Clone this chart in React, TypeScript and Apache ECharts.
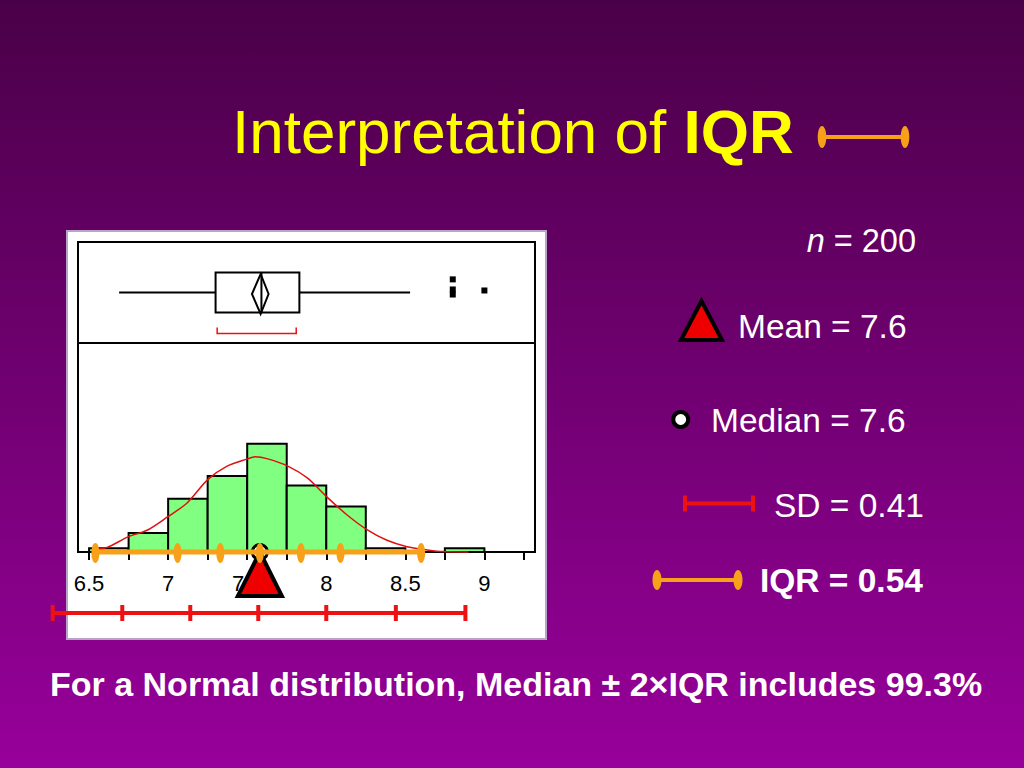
import React, { useEffect, useRef } from 'react';
import * as echarts from 'echarts';

// ---------- data ----------
const binEdges = [6.5, 6.75, 7, 7.25, 7.5, 7.75, 8, 8.25, 8.5, 8.75, 9, 9.25];
const binCounts = [2, 10, 28, 40, 57, 35, 24, 2, 0, 2, 0];

const curveX = [6.52, 6.61, 6.75, 6.87, 7.0, 7.12, 7.25, 7.37, 7.5, 7.55, 7.63, 7.76, 7.88, 8.0, 8.13, 8.26, 8.38, 8.51, 8.64, 8.74, 8.9];
const curveY = [1.4, 2.3, 8.1, 11.6, 18.7, 25.8, 38.1, 45.1, 49.0, 50.1, 49.0, 45.1, 39.0, 29.3, 19.6, 11.6, 6.3, 2.8, 1.1, 0.2, 0];

// low whisker, Q1, median, Q3, high whisker
const boxStats = [6.69, 7.3, 7.59, 7.83, 8.53];
// mean diamond: lower, mean, upper
const meanDiamond = [7.53, 7.585, 7.635];
// shortest half bracket
const shortestHalf = [7.31, 7.81];
const outlierX = [8.8, 8.8, 8.8, 9.0];
const outlierY = [0.63, 0.53, 0.48, 0.52];

const tickValues = [6.5, 6.75, 7, 7.25, 7.5, 7.75, 8, 8.25, 8.5, 8.75, 9, 9.25];
const tickLabels = [6.5, 7, 7.5, 8, 8.5, 9];

const iqrMarks = [6.54, 7.06, 7.33, 7.58, 7.84, 8.09, 8.6];
const sdMarks = [6.27, 6.71, 7.14, 7.57, 8.0, 8.44, 8.88];
const meanValue = 7.58;
const medianValue = 7.58;

const statN = '200';
const statMean = '7.6';
const statMedian = '7.6';
const statSD = '0.41';
const statIQR = '0.54';

// ---------- styles ----------
const FONT = "'Liberation Sans', Arial, Helvetica, sans-serif";
const ORANGE = '#f7a11a';
const RED = '#ee1111';
const GREEN = '#80ff80';
const X_MIN = 6.43;
const X_MAX = 9.32;
const LEG = 33.5;

export default function App() {
  const ref = useRef<HTMLDivElement>(null);

  useEffect(() => {
    if (!ref.current) return;
    const chart = echarts.init(ref.current, null, { renderer: 'svg' });

    const hiddenX = (grid: number) => ({
      type: 'value', gridIndex: grid, min: X_MIN, max: X_MAX, show: false,
    });
    const hiddenY = (grid: number, max: number) => ({
      type: 'value', gridIndex: grid, min: 0, max, show: false,
    });

    const option: any = {
      animation: false,
      backgroundColor: new echarts.graphic.LinearGradient(0, 0, 0, 1, [
        { offset: 0, color: '#4a0048' },
        { offset: 1, color: '#98009b' },
      ]),
      grid: [
        { left: 67, top: 231, width: 479, height: 408, show: true, backgroundColor: '#ffffff', borderColor: '#b9a4c9', borderWidth: 2 },
        { left: 78, top: 242, width: 457, height: 101, show: true, backgroundColor: 'transparent', borderColor: '#000', borderWidth: 2 },
        { left: 78, top: 343, width: 457, height: 209, show: true, backgroundColor: 'transparent', borderColor: '#000', borderWidth: 2 },
        { left: 78, top: 603, width: 457, height: 20, show: false },
      ],
      xAxis: [
        hiddenX(0),
        hiddenX(1),
        {
          type: 'value', gridIndex: 2, min: X_MIN, max: X_MAX,
          axisLine: { show: false },
          splitLine: { show: false },
          axisTick: { show: true, customValues: tickValues, length: 8, lineStyle: { color: '#000', width: 2 } },
          axisLabel: {
            show: true, customValues: tickLabels, color: '#000', fontSize: 22, fontFamily: FONT, margin: 20,
            formatter: (v: number) => String(v),
          },
        },
        hiddenX(3),
      ],
      yAxis: [hiddenY(0, 1), hiddenY(1, 1), hiddenY(2, 110), hiddenY(3, 1)],
      series: [
        {
          type: 'custom', xAxisIndex: 2, yAxisIndex: 2, z: 2,
          data: binCounts.map((c, i) => [binEdges[i], binEdges[i + 1], c]),
          encode: { x: [0, 1], y: 2 },
          renderItem: (params: any, api: any) => {
            const p0 = api.coord([api.value(0), api.value(2)]);
            const p1 = api.coord([api.value(1), 0]);
            return {
              type: 'rect',
              shape: { x: p0[0], y: p0[1], width: p1[0] - p0[0], height: p1[1] - p0[1] },
              style: { fill: GREEN, stroke: '#000', lineWidth: 2 },
            };
          },
        },
        {
          type: 'line', xAxisIndex: 2, yAxisIndex: 2, z: 3,
          data: curveX.map((x, i) => [x, curveY[i]]),
          showSymbol: false, smooth: 0.3, clip: false,
          lineStyle: { color: '#e01010', width: 1.5 },
        },
        {
          type: 'scatter', xAxisIndex: 2, yAxisIndex: 2, z: 4, clip: false,
          data: [[medianValue, 0]],
          symbol: 'circle', symbolSize: 15,
          itemStyle: { color: '#fff', borderColor: '#000', borderWidth: 3, opacity: 1 },
        },
        {
          type: 'line', xAxisIndex: 2, yAxisIndex: 2, z: 5, clip: false,
          data: [[iqrMarks[0], 0], [iqrMarks[iqrMarks.length - 1], 0]],
          showSymbol: false,
          lineStyle: { color: ORANGE, width: 5 },
        },
        {
          type: 'scatter', xAxisIndex: 2, yAxisIndex: 2, z: 6, clip: false,
          data: [[meanValue, 0]],
          symbol: 'triangle', symbolSize: [44, 44], symbolOffset: [0, 22],
          itemStyle: { color: '#ee0000', borderColor: '#000', borderWidth: 4, opacity: 1 },
        },
        {
          type: 'scatter', xAxisIndex: 2, yAxisIndex: 2, z: 7, clip: false,
          data: iqrMarks.map((v) => [v, 0]),
          symbol: 'circle', symbolSize: [8, 20], symbolOffset: [0, 1],
          itemStyle: { color: ORANGE, opacity: 1 },
        },
        {
          type: 'custom', xAxisIndex: 1, yAxisIndex: 1, z: 3,
          data: [[...boxStats, ...meanDiamond, ...shortestHalf]],
          renderItem: (params: any, api: any) => {
            const v = (i: number) => api.value(i);
            const c = (x: number) => api.coord([x, 0.5]);
            const lo = c(v(0)), q1 = c(v(1)), med = c(v(2)), q3 = c(v(3)), hi = c(v(4));
            const dl = c(v(5)), dm = c(v(6)), dr = c(v(7));
            const sl = c(v(8)), sr = c(v(9));
            const cy = lo[1];
            const hh = 20;
            const black = { stroke: '#000', lineWidth: 2, fill: 'none' };
            return {
              type: 'group',
              children: [
                { type: 'line', shape: { x1: lo[0], y1: cy, x2: q1[0], y2: cy }, style: black },
                { type: 'line', shape: { x1: q3[0], y1: cy, x2: hi[0], y2: cy }, style: black },
                { type: 'rect', shape: { x: q1[0], y: cy - hh, width: q3[0] - q1[0], height: 2 * hh }, style: black },
                { type: 'line', shape: { x1: med[0], y1: cy - hh, x2: med[0], y2: cy + hh }, style: black },
                {
                  type: 'polygon',
                  shape: { points: [[dm[0], cy - hh + 1.5], [dr[0], cy + 1.5], [dm[0], cy + hh + 1.5], [dl[0], cy + 1.5]] },
                  style: black,
                },
                {
                  type: 'polyline',
                  shape: { points: [[sl[0], cy + 35], [sl[0], cy + 41], [sr[0], cy + 41], [sr[0], cy + 35]] },
                  style: { stroke: RED, lineWidth: 1.5, fill: 'none' },
                },
              ],
            };
          },
        },
        {
          type: 'scatter', xAxisIndex: 1, yAxisIndex: 1, z: 4,
          data: outlierX.map((x, i) => [x, outlierY[i]]),
          symbol: 'rect', symbolSize: 6,
          itemStyle: { color: '#000', opacity: 1 },
        },
        {
          type: 'custom', xAxisIndex: 3, yAxisIndex: 3, z: 4,
          data: sdMarks.map((v, i) => [v, i < sdMarks.length - 1 ? sdMarks[i + 1] : v]),
          renderItem: (params: any, api: any) => {
            const p = api.coord([api.value(0), 0.5]);
            const q = api.coord([api.value(1), 0.5]);
            return {
              type: 'group',
              children: [
                { type: 'line', shape: { x1: p[0], y1: p[1], x2: q[0], y2: q[1] }, style: { stroke: RED, lineWidth: 4 } },
                { type: 'line', shape: { x1: p[0], y1: p[1] - 8, x2: p[0], y2: p[1] + 8 }, style: { stroke: RED, lineWidth: 4 } },
              ],
            };
          },
        },
      ],
      graphic: [
        {
          type: 'text', x: 232, y: 131,
          style: {
            text: '{a|Interpretation of }{b|IQR}',
            verticalAlign: 'middle',
            rich: {
              a: { fontSize: 62, fontFamily: FONT, fill: '#ffff00' },
              b: { fontSize: 62, fontFamily: FONT, fontWeight: 'bold', fill: '#ffff00' },
            },
          },
        },
        { type: 'line', shape: { x1: 822, y1: 137, x2: 905, y2: 137 }, style: { stroke: ORANGE, lineWidth: 4 } },
        { type: 'ellipse', shape: { cx: 822, cy: 137, rx: 4.3, ry: 11 }, style: { fill: ORANGE } },
        { type: 'ellipse', shape: { cx: 905, cy: 137, rx: 4.3, ry: 11 }, style: { fill: ORANGE } },
        {
          type: 'text', x: 916, y: 241,
          style: {
            text: '{i|n} = ' + statN,
            align: 'right', verticalAlign: 'middle',
            fontSize: 32.5, fontFamily: FONT, fill: '#fff',
            rich: { i: { fontSize: 32.5, fontFamily: FONT, fontStyle: 'italic', fill: '#fff' } },
          },
        },
        {
          type: 'polygon', shape: { points: [[701.5, 301], [681, 340], [722, 340]] },
          style: { fill: '#ee0000', stroke: '#000', lineWidth: 4 },
        },
        {
          type: 'text', x: 738, y: 326,
          style: { text: 'Mean = ' + statMean, verticalAlign: 'middle', fontSize: LEG, fontFamily: FONT, fill: '#fff' },
        },
        { type: 'circle', shape: { cx: 680.7, cy: 419.5, r: 7.5 }, style: { fill: '#fff', stroke: '#000', lineWidth: 4 } },
        {
          type: 'text', x: 711, y: 420,
          style: { text: 'Median = ' + statMedian, verticalAlign: 'middle', fontSize: LEG, fontFamily: FONT, fill: '#fff' },
        },
        { type: 'line', shape: { x1: 683, y1: 503.5, x2: 755, y2: 503.5 }, style: { stroke: RED, lineWidth: 4 } },
        { type: 'line', shape: { x1: 685, y1: 495.5, x2: 685, y2: 511.5 }, style: { stroke: RED, lineWidth: 4 } },
        { type: 'line', shape: { x1: 753, y1: 495.5, x2: 753, y2: 511.5 }, style: { stroke: RED, lineWidth: 4 } },
        {
          type: 'text', x: 774, y: 505,
          style: { text: 'SD = ' + statSD, verticalAlign: 'middle', fontSize: LEG, fontFamily: FONT, fill: '#fff' },
        },
        { type: 'line', shape: { x1: 657, y1: 580, x2: 738, y2: 580 }, style: { stroke: ORANGE, lineWidth: 4 } },
        { type: 'ellipse', shape: { cx: 657, cy: 580, rx: 4.5, ry: 10 }, style: { fill: ORANGE } },
        { type: 'ellipse', shape: { cx: 738, cy: 580, rx: 4.5, ry: 10 }, style: { fill: ORANGE } },
        {
          type: 'text', x: 760, y: 580,
          style: { text: 'IQR = ' + statIQR, verticalAlign: 'middle', fontSize: LEG, fontWeight: 'bold', fontFamily: FONT, fill: '#fff' },
        },
        {
          type: 'text', x: 50, y: 684,
          style: {
            text: 'For a Normal distribution, Median \u00b1 2\u00d7IQR includes 99.3%',
            verticalAlign: 'middle', fontSize: 34, fontWeight: 'bold', fontFamily: FONT, fill: '#fff',
          },
        },
      ],
    };

    chart.setOption(option);
    return () => chart.dispose();
  }, []);

  return <div ref={ref} style={{ position: 'fixed', left: 0, top: 0, width: 1024, height: 768 }} />;
}
